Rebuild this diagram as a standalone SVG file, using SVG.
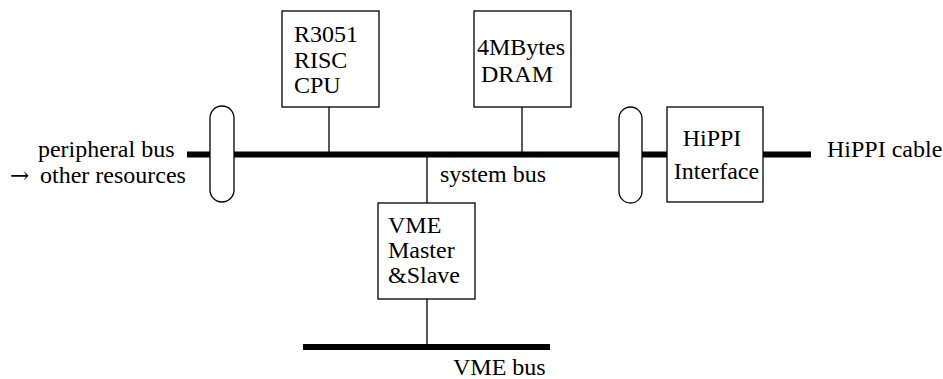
<svg xmlns="http://www.w3.org/2000/svg" width="943" height="379" viewBox="0 0 943 379">
<style>
text{font-family:"Liberation Serif","Times New Roman",serif;font-size:24px;fill:#000}
.arrow{font-family:"DejaVu Serif","Liberation Serif",serif;font-size:23px}
.box{fill:#fff;stroke:#000;stroke-width:1.3}
.bus{stroke:#000;stroke-width:6;fill:none}
.wire{stroke:#000;stroke-width:1.3;fill:none}
</style>
<rect width="943" height="379" fill="#fff"/>
<g id="connectors">
<line class="bus" x1="187" y1="154.5" x2="811" y2="154.5"/>
<line class="bus" x1="303" y1="347" x2="550" y2="347"/>
<line class="wire" x1="329" y1="107" x2="329" y2="152"/>
<line class="wire" x1="522" y1="107" x2="522" y2="152"/>
<line class="wire" x1="427" y1="157" x2="427" y2="203"/>
<line class="wire" x1="427" y1="299" x2="427" y2="344"/>
</g>
<g id="bridge-left"><rect class="box" x="210" y="106" width="24" height="96" rx="12"/></g>
<g id="bridge-right"><rect class="box" x="619" y="107" width="23" height="96" rx="11.5"/></g>
<g id="cpu">
<rect class="box" x="282" y="11" width="97" height="96"/>
<text x="294" y="42">R3051</text>
<text x="294" y="68">RISC</text>
<text x="294" y="93">CPU</text>
</g>
<g id="dram">
<rect class="box" x="474" y="11" width="97" height="96"/>
<text x="477" y="55">4MBytes</text>
<text x="481" y="81.5">DRAM</text>
</g>
<g id="hippi">
<rect class="box" x="667" y="107" width="96" height="95"/>
<text x="712" y="146" text-anchor="middle">HiPPI</text>
<text x="716.5" y="179" text-anchor="middle">Interface</text>
</g>
<g id="vme">
<rect class="box" x="378" y="203" width="97" height="96"/>
<text x="388" y="233">VME</text>
<text x="388" y="258">Master</text>
<text x="388" y="283">&amp;Slave</text>
</g>
<g id="labels">
<text x="174.5" y="157" text-anchor="end">peripheral bus</text>
<text y="183"><tspan class="arrow" x="10">→</tspan><tspan x="40">other resources</tspan></text>
<text x="440" y="182">system bus</text>
<text x="827" y="157">HiPPI cable</text>
<text x="453" y="375">VME bus</text>
</g>
</svg>
